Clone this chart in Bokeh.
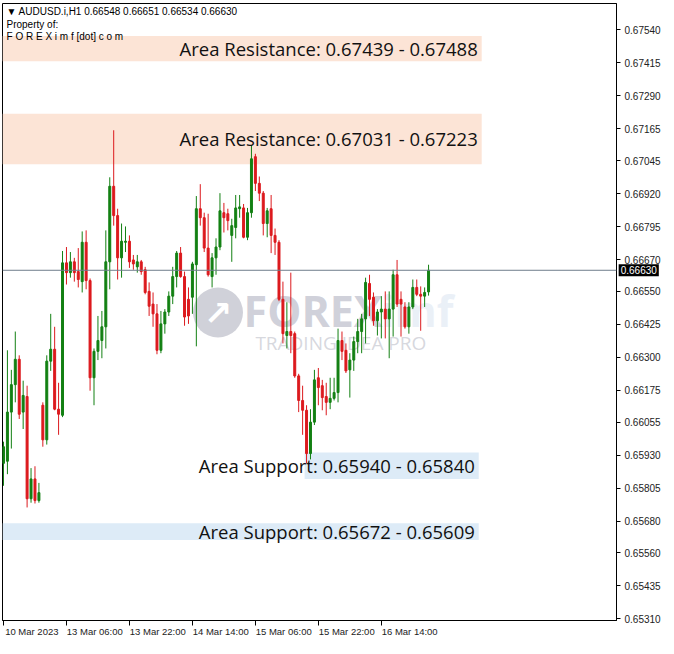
from bokeh.plotting import figure
from bokeh.models import (Range1d, FixedTicker, Span, Label, BoxAnnotation,
                          ColumnDataSource, PrintfTickFormatter)
from bokeh.core.properties import value
from bokeh.embed import file_html
from bokeh.resources import INLINE

# ---------------- data ----------------
symbol_header = "\u25BC AUDUSD.i,H1  0.66548 0.66651 0.66534 0.66630"
owner_lines = ["Property of:", "F O R E X i m f [dot] c o m"]

opens = [0.65899, 0.65907, 0.66093, 0.66197, 0.66293, 0.66093, 0.66152, 0.65765, 0.65840, 0.65758,
         0.66119, 0.65988, 0.66286, 0.66331, 0.66104, 0.66081, 0.66658, 0.66621, 0.66662, 0.66625,
         0.66587, 0.66736, 0.66591, 0.66223, 0.66323, 0.66364, 0.66416, 0.66662, 0.66948, 0.66837,
         0.66677, 0.66736, 0.66740, 0.66669, 0.66643, 0.66662, 0.66632, 0.66550, 0.66502, 0.66465,
         0.66327, 0.66427, 0.66472, 0.66532, 0.66606, 0.66695, 0.66606, 0.66520, 0.66528, 0.66651,
         0.66863, 0.66829, 0.66714, 0.66606, 0.66677, 0.66718, 0.66848, 0.66844, 0.66762, 0.66792,
         0.66863, 0.66866, 0.66755, 0.66848, 0.67060, 0.66959, 0.66922, 0.66807, 0.66863, 0.66762,
         0.66736, 0.66520, 0.66383, 0.66398, 0.66390, 0.66230, 0.66137, 0.66100, 0.65936, 0.66055,
         0.66223, 0.66193, 0.66152, 0.66130, 0.66145, 0.66167, 0.66364, 0.66327, 0.66253, 0.66290,
         0.66360, 0.66398, 0.66446, 0.66580, 0.66528, 0.66439, 0.66472, 0.66483, 0.66446, 0.66483,
         0.66613, 0.66520, 0.66491, 0.66416, 0.66491, 0.66565, 0.66539, 0.66532, 0.66548]
highs = [0.65981, 0.66327, 0.66253, 0.66398, 0.66308, 0.66212, 0.66193, 0.65881, 0.65888, 0.65825,
         0.66130, 0.66308, 0.66465, 0.66416, 0.66204, 0.66703, 0.66718, 0.66699, 0.66677, 0.66714,
         0.66777, 0.66781, 0.66599, 0.66334, 0.66457, 0.66476, 0.66781, 0.66982, 0.67160, 0.66863,
         0.66807, 0.66796, 0.66762, 0.66688, 0.66688, 0.66669, 0.66643, 0.66584, 0.66546, 0.66502,
         0.66476, 0.66483, 0.66550, 0.66643, 0.66703, 0.66718, 0.66625, 0.66565, 0.66662, 0.66911,
         0.66956, 0.66848, 0.66844, 0.66695, 0.66751, 0.66922, 0.66885, 0.66863, 0.66825, 0.66915,
         0.66915, 0.66881, 0.66866, 0.67104, 0.67071, 0.66985, 0.66930, 0.66866, 0.66915, 0.66788,
         0.66744, 0.66587, 0.66509, 0.66621, 0.66398, 0.66238, 0.66193, 0.66119, 0.66104, 0.66253,
         0.66260, 0.66215, 0.66204, 0.66223, 0.66223, 0.66409, 0.66398, 0.66353, 0.66316, 0.66379,
         0.66446, 0.66465, 0.66602, 0.66613, 0.66546, 0.66483, 0.66532, 0.66550, 0.66550, 0.66632,
         0.66669, 0.66550, 0.66509, 0.66509, 0.66595, 0.66595, 0.66569, 0.66565, 0.66651]
lows = [0.65814, 0.65858, 0.65955, 0.66130, 0.66067, 0.66029, 0.65732, 0.65750, 0.65747, 0.65750,
        0.65962, 0.65970, 0.66249, 0.66100, 0.66007, 0.66074, 0.66576, 0.66602, 0.66587, 0.66565,
        0.66546, 0.66558, 0.66174, 0.66119, 0.66290, 0.66297, 0.66334, 0.66558, 0.66799, 0.66595,
        0.66602, 0.66699, 0.66639, 0.66632, 0.66621, 0.66613, 0.66539, 0.66457, 0.66416, 0.66312,
        0.66316, 0.66390, 0.66457, 0.66502, 0.66565, 0.66602, 0.66420, 0.66427, 0.66465, 0.66342,
        0.66799, 0.66699, 0.66606, 0.66565, 0.66613, 0.66706, 0.66773, 0.66781, 0.66662, 0.66751,
        0.66829, 0.66751, 0.66744, 0.66829, 0.66930, 0.66892, 0.66762, 0.66755, 0.66695, 0.66688,
        0.66513, 0.66353, 0.66334, 0.66316, 0.66223, 0.66093, 0.66007, 0.65899, 0.65914, 0.66044,
        0.66119, 0.66100, 0.66081, 0.66104, 0.66137, 0.66130, 0.66290, 0.66241, 0.66148, 0.66249,
        0.66316, 0.66316, 0.66353, 0.66457, 0.66420, 0.66383, 0.66372, 0.66372, 0.66297, 0.66379,
        0.66491, 0.66379, 0.66409, 0.66390, 0.66483, 0.66532, 0.66401, 0.66491, 0.66534]
closes = [0.65962, 0.66093, 0.66197, 0.66293, 0.66085, 0.66156, 0.65765, 0.65840, 0.65758, 0.65788,
          0.65988, 0.66286, 0.66331, 0.66104, 0.66085, 0.66658, 0.66621, 0.66662, 0.66621, 0.66595,
          0.66736, 0.66591, 0.66223, 0.66323, 0.66364, 0.66416, 0.66662, 0.66948, 0.66837, 0.66677,
          0.66740, 0.66740, 0.66662, 0.66654, 0.66662, 0.66625, 0.66546, 0.66494, 0.66465, 0.66327,
          0.66427, 0.66472, 0.66532, 0.66606, 0.66695, 0.66606, 0.66453, 0.66457, 0.66654, 0.66863,
          0.66829, 0.66714, 0.66613, 0.66677, 0.66718, 0.66855, 0.66829, 0.66818, 0.66799, 0.66866,
          0.66870, 0.66755, 0.66848, 0.67052, 0.66959, 0.66922, 0.66807, 0.66855, 0.66762, 0.66736,
          0.66520, 0.66390, 0.66398, 0.66383, 0.66230, 0.66137, 0.66100, 0.65936, 0.66055, 0.66215,
          0.66186, 0.66148, 0.66130, 0.66145, 0.66167, 0.66364, 0.66323, 0.66249, 0.66290, 0.66360,
          0.66398, 0.66446, 0.66584, 0.66520, 0.66439, 0.66472, 0.66483, 0.66446, 0.66483, 0.66613,
          0.66502, 0.66502, 0.66416, 0.66491, 0.66565, 0.66539, 0.66532, 0.66546, 0.66630]
bar_index = list(range(len(opens)))

last_price = 0.66630

y_ticks = [0.67540, 0.67415, 0.67290, 0.67165, 0.67045, 0.66920, 0.66795, 0.66670, 0.66550,
           0.66425, 0.66300, 0.66175, 0.66055, 0.65930, 0.65805, 0.65680, 0.65560, 0.65435, 0.65310]
x_tick_bars = [0, 16, 32, 48, 64, 80, 96]
x_tick_labels = ["10 Mar 2023", "13 Mar 06:00", "13 Mar 22:00", "14 Mar 14:00",
                 "15 Mar 06:00", "15 Mar 22:00", "16 Mar 14:00"]

zone_names = ["Area Resistance", "Area Resistance", "Area Support", "Area Support"]
zone_level_a = [0.67439, 0.67031, 0.65940, 0.65672]
zone_level_b = [0.67488, 0.67223, 0.65840, 0.65609]
zone_box_top = [0.67517, 0.67223, 0.65940, 0.65672]
zone_box_bottom = [0.67421, 0.67031, 0.65840, 0.65609]
zone_box_start = [None, None, 76.5, None]
zone_box_end = [121.5, 121.5, 120.75, 120.75]
zone_colors = ["#FCE4D6", "#FCE4D6", "#DDEBF7", "#DDEBF7"]

# ---------------- figure ----------------
FW, FH = 614, 617
p = figure(frame_width=FW, frame_height=FH,
           x_range=Range1d(-0.25, 155.75), y_range=Range1d(0.65304, 0.67640),
           output_backend="svg", toolbar_location=None,
           x_axis_location="below", y_axis_location="right",
           min_border_left=2, min_border_top=3, min_border_right=0, min_border_bottom=0)
p.xgrid.grid_line_color = None
p.ygrid.grid_line_color = None
p.outline_line_color = "black"
p.outline_line_width = 1
p.background_fill_color = "white"
p.border_fill_color = "white"

# zones
for top, bot, start, end, col in zip(zone_box_top, zone_box_bottom, zone_box_start, zone_box_end, zone_colors):
    kw = dict(top=top, bottom=bot, right=end, fill_color=col, fill_alpha=1.0,
              line_color=None, level="underlay")
    if start is not None:
        kw["left"] = start
    p.add_layout(BoxAnnotation(**kw))

# watermark
wm = "#c4c5d0"
p.circle(x=[54.5], y=[0.66470], radius=25, radius_units="screen", fill_color=wm,
         line_color=None, fill_alpha=0.8)
p.text(x=[54.5], y=[0.66470], text=["\u2197"], text_font=value("DejaVu Sans"),
       text_font_size="34px", text_font_style="bold", text_color="white",
       text_align="center", text_baseline="middle")
p.text(x=[61.0], y=[0.66478], text=["FOREX"], text_font=value("Open Sans"),
       text_font_size="43px", text_font_style="bold", text_color=wm, text_alpha=0.8,
       text_align="left", text_baseline="middle")
p.text(x=[96.0], y=[0.66478], text=["imf"], text_font=value("Open Sans"),
       text_font_size="43px", text_font_style="bold", text_color="#dde6f2", text_alpha=0.6,
       text_align="left", text_baseline="middle")
p.text(x=[64.0], y=[0.66355], text=["TRADING IDEA PRO"], text_font=value("Open Sans"),
       text_font_size="19px", text_color="#d2d3da", text_alpha=0.9,
       text_align="left", text_baseline="middle")

# candles
up_col, dn_col = "#138013", "#dc1a1e"
colors = [up_col if c >= o else dn_col for o, c in zip(opens, closes)]
src = ColumnDataSource(dict(x=bar_index, o=opens, h=highs, l=lows, c=closes,
                            top=[max(o, c) for o, c in zip(opens, closes)],
                            bot=[min(o, c) for o, c in zip(opens, closes)],
                            col=colors))
p.segment(x0="x", y0="h", x1="x", y1="l", source=src, line_color="col", line_width=1)
p.vbar(x="x", top="top", bottom="bot", width=0.5, source=src,
       fill_color="col", line_color="col", line_width=1)

# current price line
p.add_layout(Span(location=last_price, dimension="width", line_color="#6f7d8c", line_width=1))

# zone labels
for name, a, b, top, bot, end in zip(zone_names, zone_level_a, zone_level_b,
                                     zone_box_top, zone_box_bottom, zone_box_end):
    txt = f"{name}: {a:.5f} - {b:.5f}"
    p.add_layout(Label(x=end - 1.0, y=(top + bot) / 2, text=txt,
                       text_font="Open Sans", text_font_size="18.5px",
                       text_color="#111111", text_align="right", text_baseline="middle"))

# header texts
hdr_font = "Liberation Sans"
p.add_layout(Label(x=4, y=FH - 8, x_units="screen", y_units="screen", text=symbol_header,
                   text_font=hdr_font, text_font_size="10px", text_color="black",
                   text_baseline="middle"))
for k, t in enumerate(owner_lines):
    p.add_layout(Label(x=4, y=FH - 21 - 12 * k, x_units="screen", y_units="screen", text=t,
                       text_font=hdr_font, text_font_size="10px", text_color="black",
                       text_baseline="middle"))

# axes
ya = p.yaxis[0]
ya.ticker = FixedTicker(ticks=y_ticks)
ya.formatter = PrintfTickFormatter(format="%.5f")
ya.major_label_text_font = "Liberation Sans"
ya.major_label_text_font_size = "10px"
ya.major_label_text_color = "#222222"
ya.major_tick_in = 0
ya.major_tick_out = 4
ya.minor_tick_line_color = None
ya.major_label_standoff = 4
ya.axis_line_color = "black"

label_shift = 7.2
xa = p.xaxis[0]
xa.ticker = FixedTicker(ticks=[b + label_shift for b in x_tick_bars], minor_ticks=x_tick_bars)
xa.major_label_overrides = {b + label_shift: t for b, t in zip(x_tick_bars, x_tick_labels)}
xa.major_label_text_font = "Liberation Sans"
xa.major_label_text_font_size = "9.5px"
xa.major_label_text_color = "#222222"
xa.major_tick_line_color = None
xa.major_tick_in = 0
xa.major_tick_out = 0
xa.minor_tick_in = 0
xa.minor_tick_out = 5
xa.minor_tick_line_color = "black"
xa.major_label_standoff = 0
xa.axis_line_color = "black"

# current price box on the price axis (side-panel annotation so it is not clipped)
p.add_layout(Label(x=156.3, y=last_price, text=f"{last_price:.5f}",
                   text_font="Liberation Sans", text_font_size="10px", text_color="white",
                   background_fill_color="black", background_fill_alpha=1.0,
                   text_baseline="middle", padding=2), "below")

open("out.html", "w").write(file_html(p, INLINE))
